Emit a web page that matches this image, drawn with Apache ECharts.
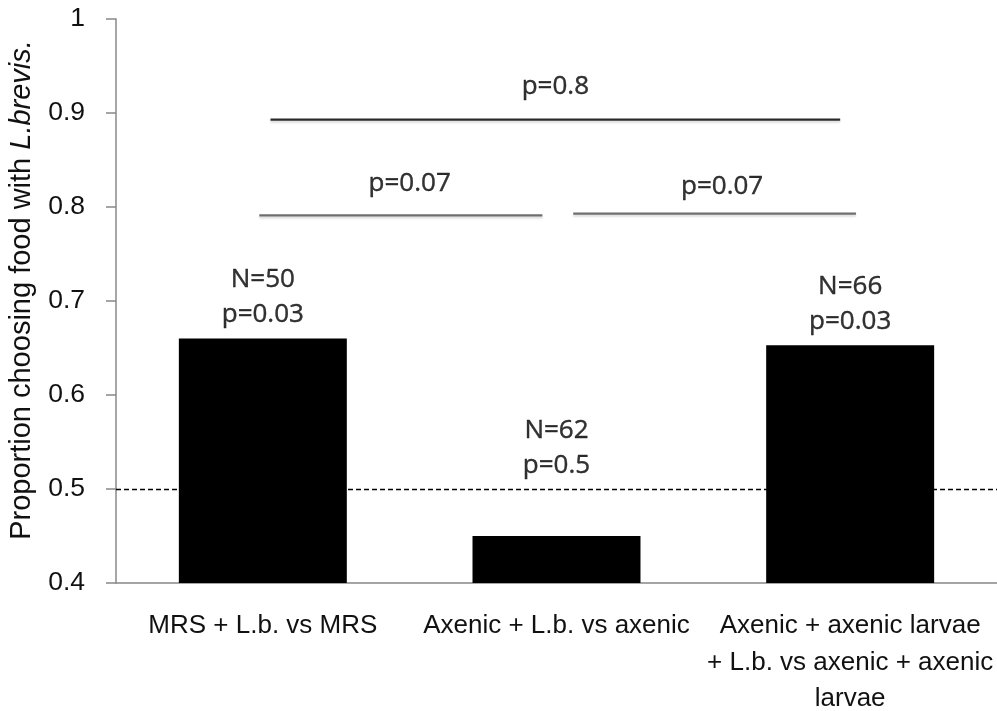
<!DOCTYPE html>
<html>
<head>
<meta charset="utf-8">
<script src="https://cdn.jsdelivr.net/npm/echarts@6/dist/echarts.min.js"></script>
<style>
  html, body { margin: 0; padding: 0; background: #fff; }
  #chart { width: 997px; height: 711px; }
</style>
</head>
<body>
<div id="chart"></div>
<script>
// Choice test: proportion of larvae choosing food with L. brevis
const categories = [
  'MRS + L.b. vs MRS',
  'Axenic + L.b. vs axenic',
  'Axenic + axenic larvae\n+ L.b. vs axenic + axenic\nlarvae'
];
const proportions = [0.66, 0.45, 0.653];
const sampleSizes = [50, 62, 66];
const groupPValues = ['0.03', '0.5', '0.03'];
const chanceLevel = 0.5;
const yTicks = { min: 0.4, max: 1, interval: 0.1 };

// pairwise comparisons between groups (bracket level on the y scale, p-value)
const comparisonPValues = ['0.8', '0.07', '0.07'];
const comparisonLevels = [0.893, 0.791, 0.793];
// horizontal extent of each bracket, in category units (0..3)
const comparisonSpans = [[0.526, 2.466], [0.488, 1.452], [1.557, 2.52]];

// where the text blocks sit
const groupLabelY = [0.704, 0.544, 0.697];
const comparisonLabelX = [1.496, 1.0, 2.064];
const comparisonLabelY = [0.928, 0.825, 0.822];

const calibri = "'Liberation Sans', Arial, sans-serif";
const annotFont = "'Open Sans', 'Noto Sans', sans-serif";

const bracketColors = ['#2a2a2a', '#6e6e6e', '#6e6e6e'];

const annotText = {
  fontFamily: annotFont,
  fontSize: 26,
  color: '#000',
  textBorderColor: '#000',
  textBorderWidth: 0.4
};

const bracketSeries = comparisonSpans.map((span, i) => ({
  type: 'line',
  xAxisIndex: 1,
  yAxisIndex: 0,
  data: [[span[0], comparisonLevels[i]], [span[1], comparisonLevels[i]]],
  symbol: 'none',
  silent: true,
  lineStyle: {
    color: bracketColors[i], width: 2.2,
    shadowColor: 'rgba(0,0,0,0.15)', shadowBlur: 2, shadowOffsetY: 2
  },
  z: 3
}));

const groupTextSeries = {
  type: 'scatter',
  xAxisIndex: 1,
  yAxisIndex: 0,
  symbolSize: 0,
  silent: true,
  data: proportions.map((v, i) => [i + 0.5, groupLabelY[i], sampleSizes[i], groupPValues[i]]),
  label: Object.assign({
    show: true,
    position: 'inside',
    formatter: p => 'N=' + p.data[2] + '\np=' + p.data[3],
    lineHeight: 35,
    align: 'center'
  }, annotText),
  z: 4
};

const comparisonTextSeries = {
  type: 'scatter',
  xAxisIndex: 1,
  yAxisIndex: 0,
  symbolSize: 0,
  silent: true,
  data: comparisonPValues.map((p, i) => [comparisonLabelX[i], comparisonLabelY[i], p]),
  label: Object.assign({
    show: true,
    position: 'inside',
    formatter: p => 'p=' + p.data[2]
  }, annotText),
  z: 4
};

const chart = echarts.init(document.getElementById('chart'), null, { renderer: 'canvas' });
chart.setOption({
  animation: false,
  backgroundColor: '#fff',
  grid: {
    left: 116, right: 0, top: 19, bottom: 128,
    containLabel: false,
    outerBoundsMode: 'none'
  },
  xAxis: [
    {
      type: 'category',
      data: categories,
      axisLine: { show: true, lineStyle: { color: '#888', width: 1.5 } },
      axisTick: { show: false },
      axisLabel: {
        interval: 0,
        margin: 25,
        fontFamily: calibri,
        fontSize: 26,
        lineHeight: 36.5,
        color: '#111',
        align: 'center'
      },
      splitLine: { show: false }
    },
    {
      type: 'value',
      min: 0,
      max: 3,
      show: false
    }
  ],
  yAxis: {
    type: 'value',
    min: yTicks.min,
    max: yTicks.max,
    interval: yTicks.interval,
    name: 'Proportion choosing food with {i|L.brevis.}',
    nameLocation: 'middle',
    nameGap: 80,
    nameTextStyle: {
      fontFamily: calibri,
      fontSize: 29,
      color: '#111',
      padding: [0, 0, 0, 22],
      rich: { i: { fontStyle: 'italic', fontFamily: calibri, fontSize: 29, color: '#111' } }
    },
    axisLine: { show: true, lineStyle: { color: '#888', width: 1.5 } },
    axisTick: { show: true, length: 10, lineStyle: { color: '#888', width: 1.5 } },
    axisLabel: {
      margin: 31,
      fontFamily: calibri,
      fontSize: 26.5,
      color: '#111'
    },
    splitLine: { show: false }
  },
  series: [
    {
      type: 'bar',
      data: proportions,
      barWidth: '57.2%',
      itemStyle: { color: '#000' },
      silent: true,
      markLine: {
        silent: true,
        symbol: 'none',
        label: { show: false },
        lineStyle: { type: [5, 3], color: '#000', width: 1.4 },
        data: [{ yAxis: chanceLevel }],
        z: 5
      },
      z: 2
    },
    ...bracketSeries,
    groupTextSeries,
    comparisonTextSeries
  ]
});
</script>
</body>
</html>
